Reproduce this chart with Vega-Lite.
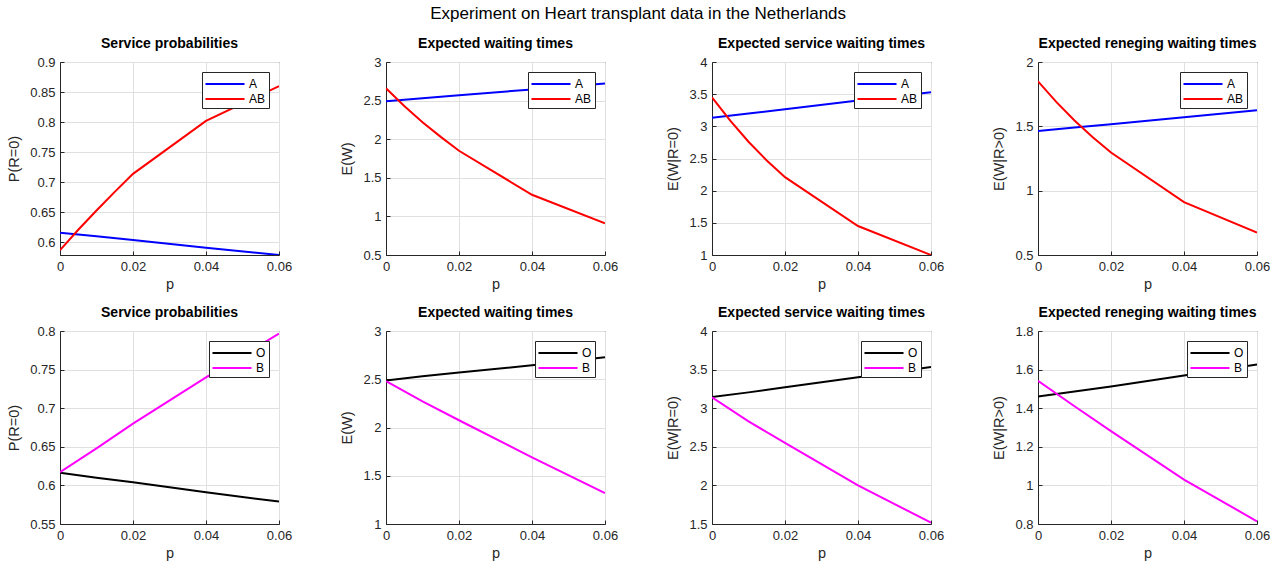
{
  "$schema": "https://vega.github.io/schema/vega-lite/v6.json",
  "padding": {"left": 6, "top": 4, "right": 6, "bottom": 6},
  "background": "white",
  "title": {"text": "Experiment on Heart transplant data in the Netherlands", "fontSize": 17, "fontWeight": "normal", "color": "#000000", "anchor": "middle", "offset": 14},
  "datasets": {
    "d": [
      {"panel": 1, "s": "A", "p": 0, "v": 0.616}, {"panel": 1, "s": "A", "p": 0.01, "v": 0.610}, {"panel": 1, "s": "A", "p": 0.02, "v": 0.604}, {"panel": 1, "s": "A", "p": 0.04, "v": 0.591}, {"panel": 1, "s": "A", "p": 0.06, "v": 0.579},
      {"panel": 1, "s": "AB", "p": 0, "v": 0.587}, {"panel": 1, "s": "AB", "p": 0.005, "v": 0.621}, {"panel": 1, "s": "AB", "p": 0.01, "v": 0.653}, {"panel": 1, "s": "AB", "p": 0.015, "v": 0.684}, {"panel": 1, "s": "AB", "p": 0.02, "v": 0.714}, {"panel": 1, "s": "AB", "p": 0.04, "v": 0.802}, {"panel": 1, "s": "AB", "p": 0.06, "v": 0.860},
      {"panel": 2, "s": "A", "p": 0, "v": 2.49}, {"panel": 2, "s": "A", "p": 0.01, "v": 2.53}, {"panel": 2, "s": "A", "p": 0.02, "v": 2.57}, {"panel": 2, "s": "A", "p": 0.04, "v": 2.645}, {"panel": 2, "s": "A", "p": 0.06, "v": 2.72},
      {"panel": 2, "s": "AB", "p": 0, "v": 2.66}, {"panel": 2, "s": "AB", "p": 0.005, "v": 2.43}, {"panel": 2, "s": "AB", "p": 0.01, "v": 2.22}, {"panel": 2, "s": "AB", "p": 0.015, "v": 2.03}, {"panel": 2, "s": "AB", "p": 0.02, "v": 1.85}, {"panel": 2, "s": "AB", "p": 0.04, "v": 1.28}, {"panel": 2, "s": "AB", "p": 0.06, "v": 0.91},
      {"panel": 3, "s": "A", "p": 0, "v": 3.135}, {"panel": 3, "s": "A", "p": 0.01, "v": 3.2}, {"panel": 3, "s": "A", "p": 0.02, "v": 3.265}, {"panel": 3, "s": "A", "p": 0.04, "v": 3.4}, {"panel": 3, "s": "A", "p": 0.06, "v": 3.53},
      {"panel": 3, "s": "AB", "p": 0, "v": 3.45}, {"panel": 3, "s": "AB", "p": 0.005, "v": 3.09}, {"panel": 3, "s": "AB", "p": 0.01, "v": 2.76}, {"panel": 3, "s": "AB", "p": 0.015, "v": 2.47}, {"panel": 3, "s": "AB", "p": 0.02, "v": 2.21}, {"panel": 3, "s": "AB", "p": 0.04, "v": 1.45}, {"panel": 3, "s": "AB", "p": 0.06, "v": 1.0},
      {"panel": 4, "s": "A", "p": 0, "v": 1.464}, {"panel": 4, "s": "A", "p": 0.01, "v": 1.49}, {"panel": 4, "s": "A", "p": 0.02, "v": 1.516}, {"panel": 4, "s": "A", "p": 0.04, "v": 1.57}, {"panel": 4, "s": "A", "p": 0.06, "v": 1.625},
      {"panel": 4, "s": "AB", "p": 0, "v": 1.85}, {"panel": 4, "s": "AB", "p": 0.005, "v": 1.69}, {"panel": 4, "s": "AB", "p": 0.01, "v": 1.545}, {"panel": 4, "s": "AB", "p": 0.015, "v": 1.415}, {"panel": 4, "s": "AB", "p": 0.02, "v": 1.297}, {"panel": 4, "s": "AB", "p": 0.04, "v": 0.911}, {"panel": 4, "s": "AB", "p": 0.06, "v": 0.674},
      {"panel": 5, "s": "O", "p": 0, "v": 0.6165}, {"panel": 5, "s": "O", "p": 0.01, "v": 0.610}, {"panel": 5, "s": "O", "p": 0.02, "v": 0.604}, {"panel": 5, "s": "O", "p": 0.04, "v": 0.591}, {"panel": 5, "s": "O", "p": 0.06, "v": 0.579},
      {"panel": 5, "s": "B", "p": 0, "v": 0.617}, {"panel": 5, "s": "B", "p": 0.01, "v": 0.648}, {"panel": 5, "s": "B", "p": 0.02, "v": 0.680}, {"panel": 5, "s": "B", "p": 0.04, "v": 0.740}, {"panel": 5, "s": "B", "p": 0.06, "v": 0.7965},
      {"panel": 6, "s": "O", "p": 0, "v": 2.488}, {"panel": 6, "s": "O", "p": 0.01, "v": 2.53}, {"panel": 6, "s": "O", "p": 0.02, "v": 2.57}, {"panel": 6, "s": "O", "p": 0.04, "v": 2.645}, {"panel": 6, "s": "O", "p": 0.06, "v": 2.727},
      {"panel": 6, "s": "B", "p": 0, "v": 2.48}, {"panel": 6, "s": "B", "p": 0.01, "v": 2.27}, {"panel": 6, "s": "B", "p": 0.02, "v": 2.075}, {"panel": 6, "s": "B", "p": 0.04, "v": 1.69}, {"panel": 6, "s": "B", "p": 0.06, "v": 1.32},
      {"panel": 7, "s": "O", "p": 0, "v": 3.144}, {"panel": 7, "s": "O", "p": 0.01, "v": 3.205}, {"panel": 7, "s": "O", "p": 0.02, "v": 3.27}, {"panel": 7, "s": "O", "p": 0.04, "v": 3.4}, {"panel": 7, "s": "O", "p": 0.06, "v": 3.533},
      {"panel": 7, "s": "B", "p": 0, "v": 3.14}, {"panel": 7, "s": "B", "p": 0.01, "v": 2.83}, {"panel": 7, "s": "B", "p": 0.02, "v": 2.55}, {"panel": 7, "s": "B", "p": 0.04, "v": 2.0}, {"panel": 7, "s": "B", "p": 0.06, "v": 1.517},
      {"panel": 8, "s": "O", "p": 0, "v": 1.461}, {"panel": 8, "s": "O", "p": 0.01, "v": 1.487}, {"panel": 8, "s": "O", "p": 0.02, "v": 1.513}, {"panel": 8, "s": "O", "p": 0.04, "v": 1.57}, {"panel": 8, "s": "O", "p": 0.06, "v": 1.627},
      {"panel": 8, "s": "B", "p": 0, "v": 1.542}, {"panel": 8, "s": "B", "p": 0.01, "v": 1.41}, {"panel": 8, "s": "B", "p": 0.02, "v": 1.281}, {"panel": 8, "s": "B", "p": 0.04, "v": 1.03}, {"panel": 8, "s": "B", "p": 0.06, "v": 0.814}
    ]
  },
  "data": {"name": "d"},
  "columns": 4,
  "spacing": {"row": 76, "column": 107},
  "bounds": "flush",
  "resolve": {"scale": {"color": "independent", "x": "independent", "y": "independent"}, "legend": {"color": "independent"}},
  "concat": [
    {
      "title": "Service probabilities", "width": 219, "height": 193,
      "transform": [{"filter": "datum.panel == 1"}],
      "mark": {"type": "line", "strokeWidth": 2, "clip": true},
      "encoding": {
        "x": {"field": "p", "type": "quantitative", "scale": {"domain": [0, 0.06], "nice": false}, "axis": {"values": [0, 0.02, 0.04, 0.06], "title": "p"}},
        "y": {"field": "v", "type": "quantitative", "scale": {"domain": [0.579, 0.9], "nice": false, "zero": false}, "axis": {"values": [0.6, 0.65, 0.7, 0.75, 0.8, 0.85, 0.9], "title": "P(R=0)"}},
        "color": {"field": "s", "type": "nominal", "scale": {"domain": ["A", "AB"], "range": ["#0000ff", "#ff0000"]}}
      }
    },
    {
      "title": "Expected waiting times", "width": 219, "height": 193,
      "transform": [{"filter": "datum.panel == 2"}],
      "mark": {"type": "line", "strokeWidth": 2, "clip": true},
      "encoding": {
        "x": {"field": "p", "type": "quantitative", "scale": {"domain": [0, 0.06], "nice": false}, "axis": {"values": [0, 0.02, 0.04, 0.06], "title": "p"}},
        "y": {"field": "v", "type": "quantitative", "scale": {"domain": [0.5, 3], "nice": false, "zero": false}, "axis": {"values": [0.5, 1, 1.5, 2, 2.5, 3], "title": "E(W)"}},
        "color": {"field": "s", "type": "nominal", "scale": {"domain": ["A", "AB"], "range": ["#0000ff", "#ff0000"]}}
      }
    },
    {
      "title": "Expected service waiting times", "width": 219, "height": 193,
      "transform": [{"filter": "datum.panel == 3"}],
      "mark": {"type": "line", "strokeWidth": 2, "clip": true},
      "encoding": {
        "x": {"field": "p", "type": "quantitative", "scale": {"domain": [0, 0.06], "nice": false}, "axis": {"values": [0, 0.02, 0.04, 0.06], "title": "p"}},
        "y": {"field": "v", "type": "quantitative", "scale": {"domain": [1, 4], "nice": false, "zero": false}, "axis": {"values": [1, 1.5, 2, 2.5, 3, 3.5, 4], "title": "E(W|R=0)"}},
        "color": {"field": "s", "type": "nominal", "scale": {"domain": ["A", "AB"], "range": ["#0000ff", "#ff0000"]}}
      }
    },
    {
      "title": "Expected reneging waiting times", "width": 219, "height": 193,
      "transform": [{"filter": "datum.panel == 4"}],
      "mark": {"type": "line", "strokeWidth": 2, "clip": true},
      "encoding": {
        "x": {"field": "p", "type": "quantitative", "scale": {"domain": [0, 0.06], "nice": false}, "axis": {"values": [0, 0.02, 0.04, 0.06], "title": "p"}},
        "y": {"field": "v", "type": "quantitative", "scale": {"domain": [0.5, 2], "nice": false, "zero": false}, "axis": {"values": [0.5, 1, 1.5, 2], "title": "E(W|R>0)"}},
        "color": {"field": "s", "type": "nominal", "scale": {"domain": ["A", "AB"], "range": ["#0000ff", "#ff0000"]}}
      }
    },
    {
      "title": "Service probabilities", "width": 219, "height": 193,
      "transform": [{"filter": "datum.panel == 5"}],
      "mark": {"type": "line", "strokeWidth": 2, "clip": true},
      "encoding": {
        "x": {"field": "p", "type": "quantitative", "scale": {"domain": [0, 0.06], "nice": false}, "axis": {"values": [0, 0.02, 0.04, 0.06], "title": "p"}},
        "y": {"field": "v", "type": "quantitative", "scale": {"domain": [0.55, 0.8], "nice": false, "zero": false}, "axis": {"values": [0.55, 0.6, 0.65, 0.7, 0.75, 0.8], "title": "P(R=0)"}},
        "color": {"field": "s", "type": "nominal", "scale": {"domain": ["O", "B"], "range": ["#000000", "#ff00ff"]}}
      }
    },
    {
      "title": "Expected waiting times", "width": 219, "height": 193,
      "transform": [{"filter": "datum.panel == 6"}],
      "mark": {"type": "line", "strokeWidth": 2, "clip": true},
      "encoding": {
        "x": {"field": "p", "type": "quantitative", "scale": {"domain": [0, 0.06], "nice": false}, "axis": {"values": [0, 0.02, 0.04, 0.06], "title": "p"}},
        "y": {"field": "v", "type": "quantitative", "scale": {"domain": [1, 3], "nice": false, "zero": false}, "axis": {"values": [1, 1.5, 2, 2.5, 3], "title": "E(W)"}},
        "color": {"field": "s", "type": "nominal", "scale": {"domain": ["O", "B"], "range": ["#000000", "#ff00ff"]}}
      }
    },
    {
      "title": "Expected service waiting times", "width": 219, "height": 193,
      "transform": [{"filter": "datum.panel == 7"}],
      "mark": {"type": "line", "strokeWidth": 2, "clip": true},
      "encoding": {
        "x": {"field": "p", "type": "quantitative", "scale": {"domain": [0, 0.06], "nice": false}, "axis": {"values": [0, 0.02, 0.04, 0.06], "title": "p"}},
        "y": {"field": "v", "type": "quantitative", "scale": {"domain": [1.5, 4], "nice": false, "zero": false}, "axis": {"values": [1.5, 2, 2.5, 3, 3.5, 4], "title": "E(W|R=0)"}},
        "color": {"field": "s", "type": "nominal", "scale": {"domain": ["O", "B"], "range": ["#000000", "#ff00ff"]}}
      }
    },
    {
      "title": "Expected reneging waiting times", "width": 219, "height": 193,
      "transform": [{"filter": "datum.panel == 8"}],
      "mark": {"type": "line", "strokeWidth": 2, "clip": true},
      "encoding": {
        "x": {"field": "p", "type": "quantitative", "scale": {"domain": [0, 0.06], "nice": false}, "axis": {"values": [0, 0.02, 0.04, 0.06], "title": "p"}},
        "y": {"field": "v", "type": "quantitative", "scale": {"domain": [0.8, 1.8], "nice": false, "zero": false}, "axis": {"values": [0.8, 1, 1.2, 1.4, 1.6, 1.8], "title": "E(W|R>0)"}},
        "color": {"field": "s", "type": "nominal", "scale": {"domain": ["O", "B"], "range": ["#000000", "#ff00ff"]}}
      }
    }
  ],
  "config": {
    "font": "Liberation Sans",
    "view": {"stroke": "#262626", "strokeWidth": 1},
    "title": {"fontSize": 14, "fontWeight": "bold", "color": "#000000", "offset": 5},
    "axis": {
      "format": "~g",
      "domainColor": "#262626",
      "gridColor": "#e0e0e0",
      "gridWidth": 1,
      "tickColor": "#262626",
      "tickSize": -4,
      "labelPadding": 9,
      "labelColor": "#262626",
      "labelFontSize": 13,
      "labelFlush": false,
      "labelOverlap": false,
      "titleColor": "#262626",
      "titleFontSize": 14.5,
      "titleFontWeight": "normal"
    },
    "axisX": {"titlePadding": 4},
    "axisY": {"titlePadding": 8},
    "legend": {
      "orient": "top-right",
      "offset": 10,
      "title": null,
      "symbolType": "M-2.44,0H2.44",
      "symbolSize": 256,
      "symbolStrokeWidth": 2,
      "symbolOffset": 11,
      "labelOffset": 15,
      "labelFontSize": 12,
      "labelColor": "#000000",
      "strokeColor": "#262626",
      "fillColor": "#ffffff",
      "padding": 3,
      "rowPadding": 0,
      "cornerRadius": 0
    }
  }
}
